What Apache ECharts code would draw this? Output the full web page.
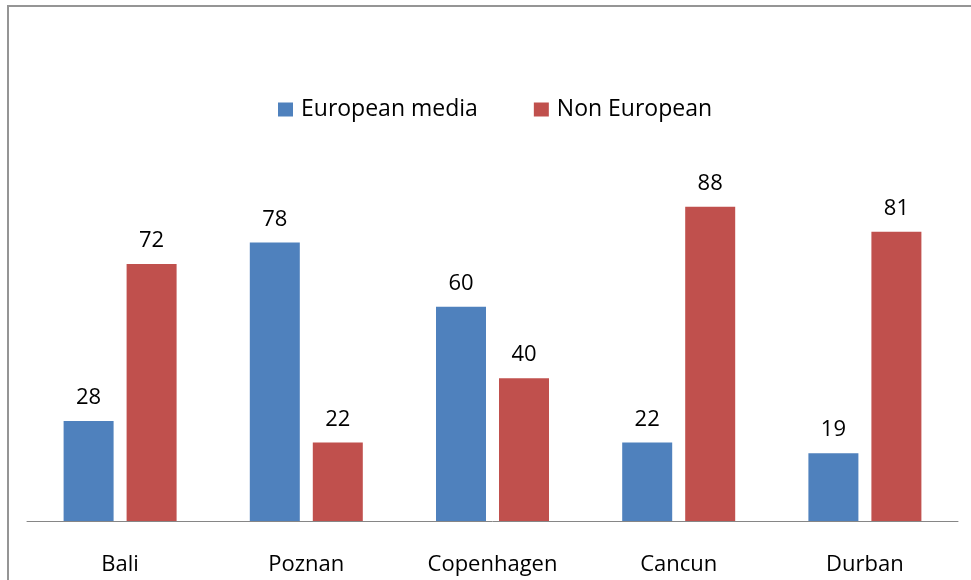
<!DOCTYPE html>
<html>
<head>
<meta charset="utf-8">
<script src="https://cdn.jsdelivr.net/npm/echarts@6/dist/echarts.min.js"></script>
<style>
  html, body { margin: 0; padding: 0; background: #fff; }
  #chart { width: 971px; height: 580px; }
</style>
</head>
<body>
<div id="chart"></div>
<script>
// Conference venues and the share of coverage by media origin (%)
const venues = ['Bali', 'Poznan', 'Copenhagen', 'Cancun', 'Durban'];
const europeanMedia = [28, 78, 60, 22, 19];
const nonEuropean = [72, 22, 40, 88, 81];
const seriesNames = ['European media', 'Non European'];

const FONT = '"Open Sans", sans-serif';
const chart = echarts.init(document.getElementById('chart'));

const labelStyle = {
  show: true,
  position: 'top',
  distance: 12,
  fontFamily: FONT,
  fontSize: 22,
  color: '#000'
};

chart.setOption({
  backgroundColor: '#fff',
  animation: false,
  graphic: [{
    type: 'rect',
    silent: true,
    shape: { x: 8, y: 6, width: 1200, height: 1000 },
    style: { fill: 'none', stroke: '#959595', lineWidth: 2 }
  }],
  legend: {
    top: 93,
    left: 273,
    itemWidth: 15,
    itemHeight: 14,
    itemGap: 56,
    icon: 'rect',
    textStyle: { fontFamily: FONT, fontSize: 23, color: '#000', padding: [0, 0, 0, 3] },
    data: seriesNames
  },
  grid: { left: 27, right: 13, top: 164, bottom: 59, containLabel: false },
  xAxis: {
    type: 'category',
    data: venues,
    axisLine: { lineStyle: { color: '#868686', width: 1 } },
    axisTick: { show: false },
    axisLabel: { fontFamily: FONT, fontSize: 22, color: '#000', margin: 33 }
  },
  yAxis: {
    type: 'value',
    min: 0,
    max: 100,
    show: false,
    splitLine: { show: false }
  },
  series: [
    {
      name: seriesNames[0],
      type: 'bar',
      data: europeanMedia,
      barWidth: 50,
      barGap: '26%',
      itemStyle: { color: '#4F81BD' },
      label: labelStyle
    },
    {
      name: seriesNames[1],
      type: 'bar',
      data: nonEuropean,
      barWidth: 50,
      barGap: '26%',
      itemStyle: { color: '#C0504D' },
      label: labelStyle
    }
  ]
});
</script>
</body>
</html>
